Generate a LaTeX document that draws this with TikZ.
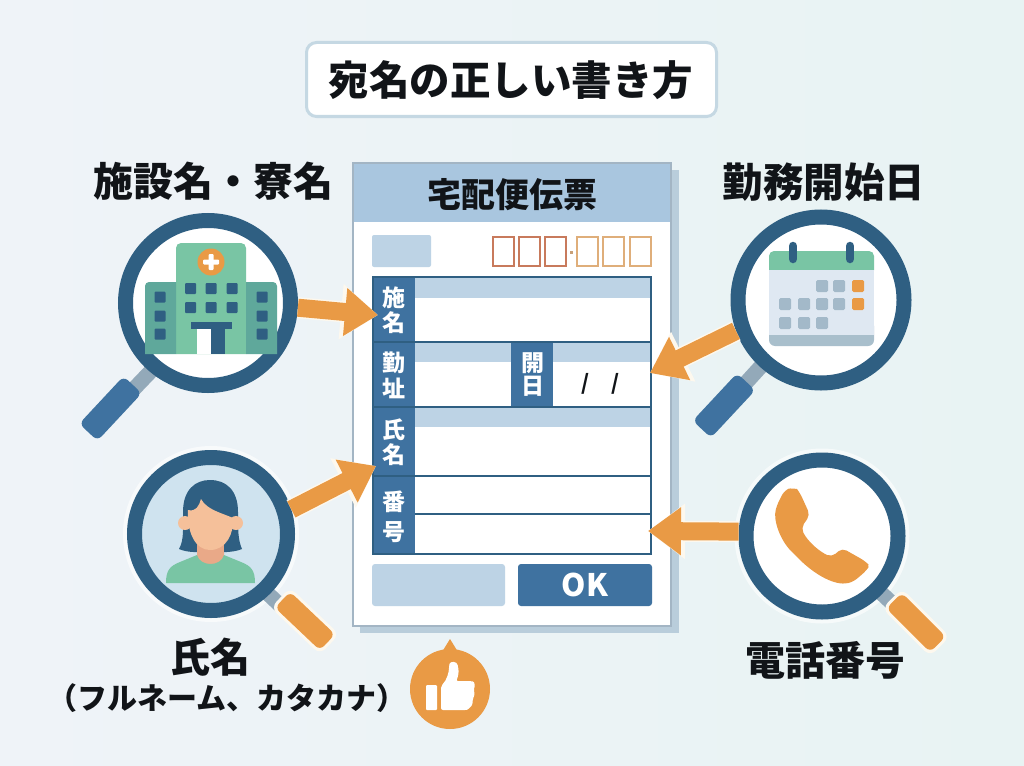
\documentclass[tikz,border=0pt]{standalone}
\usepackage{fontspec}
\newfontfamily\jp{Noto Sans CJK JP}
\usetikzlibrary{arrows.meta}
\definecolor{ringc}{HTML}{2F5F82}
\definecolor{bluec}{HTML}{3F72A0}
\definecolor{orangec}{HTML}{E99A45}
\definecolor{greenc}{HTML}{79C5A4}
\definecolor{wingc}{HTML}{5FA89B}
\definecolor{bandc}{HTML}{BDD3E5}
\definecolor{headc}{HTML}{A9C6DF}
\definecolor{grayc}{HTML}{93A9B9}
\definecolor{cellc}{HTML}{A3B9C9}
\definecolor{inkc}{HTML}{111418}
\definecolor{haloc}{HTML}{FDF8EE}
\definecolor{bgl}{HTML}{EFF3F8}
\definecolor{bgr}{HTML}{E8F3F3}
\definecolor{tbord}{HTML}{C5D8E3}
\definecolor{fshadow}{HTML}{B9CDDB}
\definecolor{fbord}{HTML}{A3B5C4}
\definecolor{redbox}{HTML}{C87A5C}
\definecolor{tanbox}{HTML}{DFAE7A}
\definecolor{dotc}{HTML}{C8A078}
\definecolor{calb}{HTML}{DFE8F2}
\definecolor{calf}{HTML}{A9BFCC}
\definecolor{lensb}{HTML}{CFE3EF}
\definecolor{neckc}{HTML}{E9A988}
\definecolor{skinc}{HTML}{F5C09A}
\tikzset{
  x=1pt,y=-1pt,
  jpt/.style={font=\jp\bfseries\fontsize{#1}{#1}\selectfont,inner sep=0pt,text=inkc},
  lab/.style={font=\jp\bfseries\fontsize{23}{23}\selectfont,inner sep=0pt,text=white},
  glass/.style={circle,draw=ringc,line width=15pt,inner sep=0pt,minimum size=#1},
  grip/.style={rectangle,rounded corners=6pt,inner sep=0pt,minimum height=25pt,minimum width=65pt},
  halo/.style={draw=haloc,line width=21pt,-{Triangle[length=37pt,width=53pt]}},
  shaft/.style={draw=orangec,line width=18pt,-{Triangle[length=33pt,width=46pt]}},
  pin/.style={draw=grayc,line width=15pt},
  ruleline/.style={draw=ringc,line width=2.5pt},
  pcell/.style={fill=cellc,rounded corners=1.5pt},
  win/.style={fill=ringc,rounded corners=1pt},
}
\newcommand{\flow}[2]{%
  \draw[halo] (#1) -- (#2);
  \draw[shaft] (#1) -- (#2);}
\begin{document}
\begin{tikzpicture}
\useasboundingbox (0,0) rectangle (1024,765);
\shade[left color=bgl,right color=bgr] (0,0) rectangle (1024,765);

% title
\node[draw=tbord,line width=3pt,fill=white,rounded corners=10pt,minimum width=410pt,minimum height=74pt,inner sep=0pt] (titlebox) at (511.5,79.5) {};
\node[jpt=40.5] (title) at (511,80) {宛名の正しい書き方};

% form
\fill[fshadow] (360,170) rectangle (679,633);
\node[draw=fbord,line width=2pt,fill=white,minimum width=318pt,minimum height=463pt,inner sep=0pt] (form) at (512,394) {};
\fill[headc] (354,164) rectangle (670,222);
\node[jpt=34] (formtitle) at (512,195) {宅配便伝票};

\fill[fill=bandc,rounded corners=2pt] (372,235) rectangle (431,267);
\foreach \a in {492,518,544}
  \draw[redbox,line width=2.5pt] (\a+1,237) rectangle (\a+22,266);
\foreach \a in {576,602,629}
  \draw[tanbox,line width=2.5pt] (\a+1,237) rectangle (\a+22,266);
\fill[dotc] (569.5,250.5) rectangle (572.5,253.5);

% table
\fill[white] (372,276) rectangle (652,555);
\fill[bandc] (415,278) rectangle (651,298);
\fill[bandc] (415,343) rectangle (511,362);
\fill[bandc] (553,343) rectangle (651,362);
\fill[bandc] (415,408) rectangle (651,427);
\fill[bluec] (372,276) rectangle (415,555);
\fill[bluec] (511,342) rectangle (553,407);
\draw[ruleline] (372,342) -- (651,342);
\draw[ruleline] (372,407) -- (651,407);
\draw[ruleline] (372,476) -- (651,476);
\draw[draw=ringc,line width=1.5pt] (415,514) -- (651,514);
\draw[ruleline] (373,277) rectangle (651,554);

\node[lab] (l1a) at (393.5,298) {施};
\node[lab] (l1b) at (393.5,323) {名};
\node[lab] (l2a) at (393.5,363) {勤};
\node[lab] (l2b) at (393.5,388) {址};
\node[lab] (l3a) at (532.5,363) {開};
\node[lab] (l3b) at (532.5,386) {日};
\node[lab] (l4a) at (393.5,430) {氏};
\node[lab] (l4b) at (393.5,455) {名};
\node[lab] (l5a) at (393.5,502) {番};
\node[lab] (l5b) at (393.5,532) {号};
\node[jpt=21] (s1) at (586,384) {/};
\node[jpt=21] (s2) at (616,384) {/};

\fill[fill=bandc,rounded corners=3pt] (372,564) rectangle (505,606);
\node[fill=bluec,rounded corners=3pt,minimum width=134pt,minimum height=42pt,inner sep=0pt,text=white,font=\jp\bfseries\fontsize{31}{31}\selectfont] (ok) at (585,585) {OK};

% targets of the arrows
\coordinate (t1) at (378,315);
\coordinate (t2) at (650,373);
\coordinate (t3) at (376,466);
\coordinate (t4) at (648,531);

% --- hospital magnifier
\draw[pin] (152,370) -- (130,393);
\node[grip,fill=bluec,rotate=47] (h1) at (110.5,408.5) {};
\node[glass=165pt,fill=white] (g1) at (208,303) {};
\fill[greenc] (176,354) -- (176,248) arc[start angle=180,end angle=270,radius=5] -- (241,243) arc[start angle=270,end angle=360,radius=5] -- (246,354) -- cycle;
\fill[wingc] (176,354) -- (176,282) -- (149,282) arc[start angle=270,end angle=180,radius=4] -- (145,354) -- cycle;
\fill[wingc] (246,354) -- (246,282) -- (273,282) arc[start angle=270,end angle=360,radius=4] -- (277,354) -- cycle;
\fill[orangec] (211,262) circle[radius=13.5];
\fill[white,rounded corners=1pt] (208.5,254) rectangle (213.5,270);
\fill[white,rounded corners=1pt] (203,259.5) rectangle (219,264.5);
\foreach \a in {190.5,211,232}
  \foreach \b in {288.5,307.5}
    \fill[win] (\a-5.5,\b-5.5) rectangle (\a+5.5,\b+5.5);
\foreach \a in {160,262}
  \foreach \b in {297,316,334}
    \fill[win] (\a-5.5,\b-5.5) rectangle (\a+5.5,\b+5.5);
\fill[ringc] (191,322) rectangle (232,329);
\fill[white] (197,329) rectangle (211,354);
\fill[ringc] (211,329) rectangle (225,354);
\flow{g1.-3}{t1}
\node[jpt=40] (n1) at (213,181) {施設名・寮名};

% --- calendar magnifier
\draw[pin] (764,363) -- (744,385);
\node[grip,fill=bluec,rotate=47] (h2) at (724,405.5) {};
\node[glass=166pt,fill=white] (g2) at (821,300) {};
\fill[calf,rounded corners=6pt] (769,320) rectangle (874,346);
\fill[calb] (769,262) rectangle (874,335);
\fill[greenc,rounded corners=5pt] (769,251) rectangle (874,275);
\fill[calb] (769,270) rectangle (874,280);
\foreach \a in {793,850}
  \draw[ringc,line width=8.5pt,line cap=round] (\a,246) -- (\a,259);
\foreach \a/\b in {822/286,839/286,785/304,804/304,822/304,839/304,785/323,804/323,822/323}
  \fill[pcell] (\a-6,\b-6) rectangle (\a+6,\b+6);
\foreach \b in {286,304}
  \fill[fill=orangec,rounded corners=1.5pt] (852,\b-6) rectangle (864,\b+6);
\flow{g2.200}{t2}
\node[jpt=40.5] (n2) at (824,182) {勤務開始日};

% --- person magnifier
\node[circle,fill=white,opacity=.6,minimum size=176pt,inner sep=0pt] (hp) at (211,534) {};
\draw[pin,draw=grayc] (264,590) -- (282,607);
\node[grip,fill=haloc,minimum width=68pt,minimum height=28pt,rotate=-43.5,rounded corners=8pt] (h3h) at (305,621) {};
\node[grip,fill=orangec,minimum height=22pt,minimum width=62pt,rotate=-43.5] (h3) at (305,621) {};
\node[glass=153pt,fill=lensb] (g3) at (211,534) {};
\fill[ringc] (179,549) .. controls (184,540) and (183,530) .. (183,512)
  .. controls (183,490) and (195,480) .. (210,480)
  .. controls (226,480) and (238,490) .. (238,512)
  .. controls (238,530) and (238,540) .. (242,549)
  .. controls (232,553) and (222,552) .. (210,552)
  .. controls (198,552) and (188,553) .. (179,549) -- cycle;
\fill[neckc] (197,540) rectangle (224,556);
\fill[neckc] (197,552) -- (224,552) -- (224,556) .. controls (222,568) and (199,568) .. (197,556) -- cycle;
\fill[greenc] (166,583) .. controls (166,570) and (170,566) .. (180,562) -- (197,555)
  .. controls (200,567) and (221,567) .. (224,555) -- (241,562)
  .. controls (251,566) and (255,570) .. (255,583) -- cycle;
\fill[skinc] (185,523) circle[radius=7];
\fill[skinc] (236,523) circle[radius=7];
\fill[skinc] (188,510) .. controls (196,512) and (199,506) .. (201,499)
  .. controls (207,510) and (222,513) .. (233,518)
  .. controls (234,534) and (226,550) .. (210,550)
  .. controls (196,550) and (187,534) .. (188,510) -- cycle;
\flow{g3.17}{t3}
\node[jpt=40] (n3) at (210,657) {氏名};
\node[jpt=30] (n3b) at (227,698) {（フルネーム、カタカナ）};

% --- phone magnifier
\node[circle,fill=white,opacity=.6,minimum size=175pt,inner sep=0pt] (hq) at (822,536) {};
\draw[pin,draw=grayc] (878,590) -- (895,606);
\node[grip,fill=haloc,minimum width=68pt,minimum height=28pt,rotate=-45,rounded corners=8pt] (h4h) at (916,622.5) {};
\node[grip,fill=orangec,minimum height=22pt,minimum width=62pt,rotate=-45] (h4) at (916,622.5) {};
\node[glass=152pt,fill=white] (g4) at (822,536) {};
\fill[orangec,rounded corners=5pt] (784,491) .. controls (790,488) and (797,489) .. (800,493)
  -- (810,515) -- (801,528) .. controls (808,542) and (820,552) .. (832,557)
  -- (842,548) -- (865,561) .. controls (868,564) and (868,568) .. (866,571)
  -- (853,582) .. controls (835,586) and (815,575) .. (795,555)
  .. controls (780,540) and (773,520) .. (777,505) -- cycle;
\flow{g4.177}{t4}
\node[jpt=40] (n4) at (825.5,660) {電話番号};

% --- badge
\fill[orangec] (450,689) circle[radius=40];
\fill[orangec] (442,652) -- (450,639) -- (458,652) -- cycle;
\fill[white,rounded corners=1pt] (426,685) rectangle (437,710);
\fill[white,rounded corners=2pt] (441,686) .. controls (447,680) and (449,672) .. (449,666)
  .. controls (450,661) and (457,661) .. (458,667)
  .. controls (459,672) and (458,677) .. (456,681)
  -- (471,681) .. controls (475,682) and (475,687) .. (473,690)
  .. controls (475,693) and (474,697) .. (472,699)
  .. controls (473,702) and (472,706) .. (469,707)
  .. controls (468,710) and (466,710) .. (463,710)
  -- (441,710) -- cycle;
\end{tikzpicture}
\end{document}
